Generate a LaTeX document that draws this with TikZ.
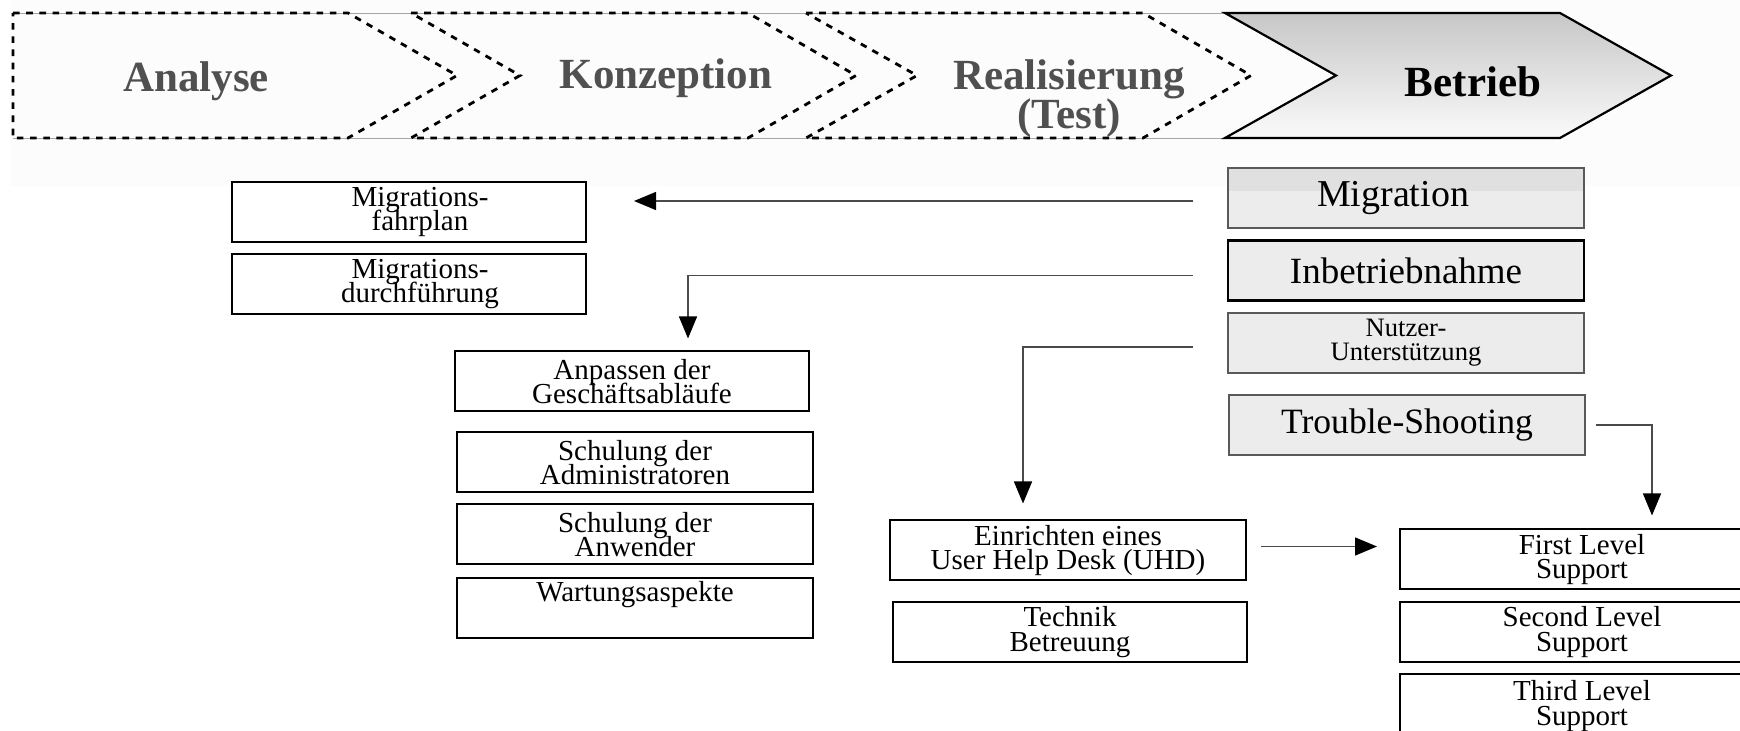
\documentclass[tikz,border=0pt]{standalone}
\usepackage{fontspec}
\setmainfont{Liberation Serif}
\usetikzlibrary{arrows.meta,calc}
\definecolor{phasegray}{HTML}{505050}
\definecolor{boxgray}{HTML}{ECECEC}
\definecolor{bandgray}{HTML}{E0E0E0}
\definecolor{linegray}{HTML}{4A4A4A}
\definecolor{topband}{HTML}{FCFCFC}
\tikzset{
  chev/.style={draw=black, line width=1.4pt, dash pattern=on 3.3pt off 3.3pt, line join=miter},
  phaselabel/.style={inner sep=0pt, text=phasegray, font=\fontsize{21.5}{19.5}\selectfont\bfseries, align=center},
  task/.style={draw=black, line width=1pt, fill=white, inner sep=0pt, align=center,
    font=\fontsize{14.5}{12.3}\selectfont,
    minimum width=177pt, minimum height=30pt},
  phasebox/.style={draw=black!65, line width=0.8pt, fill=boxgray, inner sep=0pt, align=center,
    minimum width=178pt, minimum height=30pt},
  conn/.style={draw=linegray, line width=0.7pt, -{Triangle[length=11pt,width=9pt,color=black]}}
}
\begin{document}
\begin{tikzpicture}[x=0.5pt, y=-0.5pt]
\lineskiplimit=-20pt\relax
\useasboundingbox (0,0) rectangle (1740,731);
\clip (0,0) rectangle (1740,731);
\fill[white] (0,0) rectangle (1740,731);
\fill[topband] (10,0) rectangle (1740,186);

% phase band: faint guide lines and the four chevrons
\draw[black!35, line width=0.4pt] (13,13) -- (1225,13) (13,138) -- (1225,138);
\draw[chev] (13,13) -- (348,13) -- (457,75.5) -- (348,138) -- (13,138) -- cycle;
\draw[chev] (411,13) -- (748,13) -- (856,75.5) -- (748,138) -- (411,138) -- (520,75.5) -- cycle;
\draw[chev] (806,13) -- (1143,13) -- (1251,75.5) -- (1143,138) -- (806,138) -- (917,75.5) -- cycle;
\draw[line width=1.1pt, line join=miter, top color=black!22, bottom color=black!2]
  (1225,13) -- (1560,13) -- (1671,75.5) -- (1560,138) -- (1225,138) -- (1336,75.5) -- cycle;

\node[phaselabel, anchor=base] (lana) at (196,92) {Analyse};
\node[phaselabel, anchor=base] (lkon) at (666,89) {Konzeption};
\node[phaselabel] (lrea) at (1069,99) {Realisierung\\(Test)};
\node[phaselabel, anchor=base, text=black] (lbet) at (1473,97) {Betrieb};

% activities of the operating phase
\node[phasebox, font=\fontsize{19}{20}\selectfont,
  path picture={\fill[bandgray] (path picture bounding box.north west) rectangle ([yshift=-11.5pt]path picture bounding box.north east);}]
  (mig) at (1406,198) {\hspace*{-13pt}Migration};
\node[phasebox, draw=black, line width=1.3pt, font=\fontsize{18.5}{20}\selectfont] (inb) at (1406,270.5) {Inbetriebnahme};
\node[phasebox, font=\fontsize{13.3}{12}\selectfont] (nutz) at (1406,343) {Nutzer-\\Unterst\"utzung};
\node[phasebox, font=\fontsize{17.8}{20}\selectfont] (trb) at (1407,425) {Trouble-Shooting};

% tasks
\node[task] (fahr) at (409,212) {\hspace*{11pt}Migrations-\\\hspace*{11pt}fahrplan};
\node[task] (durch) at (409,284) {\hspace*{11pt}Migrations-\\\hspace*{11pt}durchf\"uhrung};
\node[task] (anp) at (632,381.5) {Anpassen der\\Gesch\"aftsabl\"aufe};
\node[task, minimum width=178pt] (adm) at (635,462.5) {Schulung der\\Administratoren};
\node[task, minimum width=178pt] (anw) at (635,534.5) {Schulung der\\Anwender};
\node[task, minimum width=178pt, text height=9pt, text depth=15pt] (wart) at (635,608) {Wartungsaspekte};
\node[task, minimum width=178pt] (uhd) at (1068,550.5) {Einrichten eines\\User Help Desk (UHD)};
\node[task] (tech) at (1070,632) {Technik\\Betreuung};
\node[task, minimum width=182pt] (first) at (1582,559.5) {First Level\\Support};
\node[task, minimum width=182pt] (second) at (1582,632) {Second Level\\Support};
\node[task, minimum width=182pt, minimum height=32pt] (third) at (1582,706) {Third Level\\Support};

% connectors
\draw[conn] ($(mig.west)+(-34,3)$) -- ($(fahr.east |- mig.west)+(47,3)$);
\draw[conn] ($(inb.west)+(-34,5)$) -| ($(anp.north)+(56,-12)$);
\draw[conn] ($(nutz.west)+(-34,4)$) -| ($(uhd.north)+(-45,-16)$);
\draw[conn] ($(trb.east)+(10,0)$) -| ($(first.north)+(70,-13)$);
\draw[conn] ($(uhd.east)+(14,-4)$) -- ($(first.west |- uhd.east)+(-22,-4)$);
\end{tikzpicture}
\end{document}
